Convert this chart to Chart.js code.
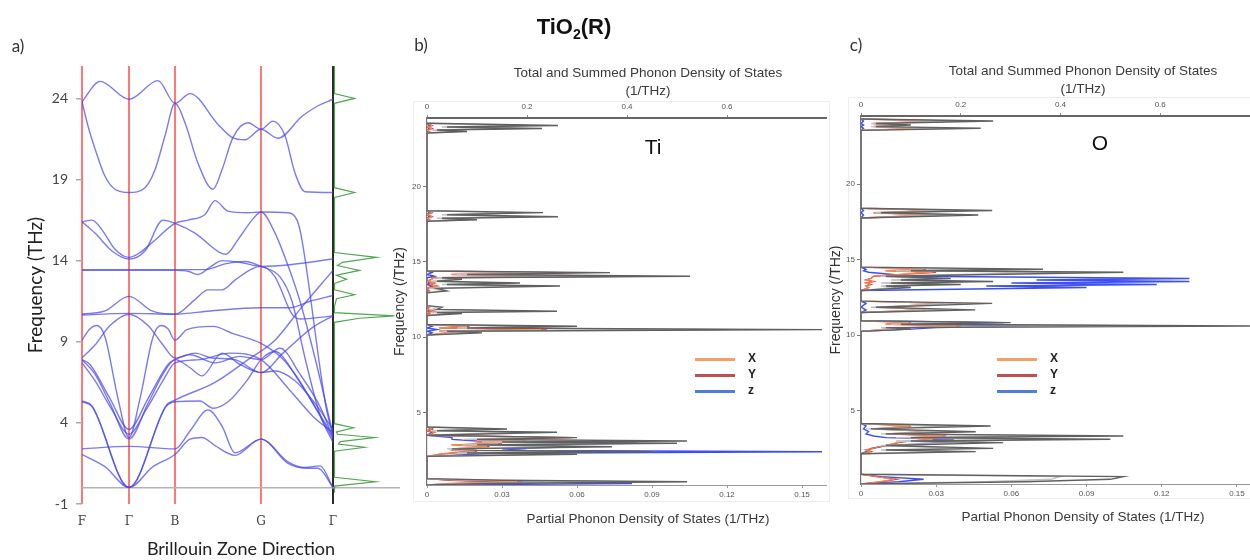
<!DOCTYPE html>
<html>
<head>
<meta charset="utf-8">
<script src="https://cdn.jsdelivr.net/npm/chart.js@4.4.1/dist/chart.umd.min.js"></script>
<style>
  html, body { margin: 0; padding: 0; background: #fff; }
  body { position: relative; width: 1250px; height: 560px; overflow: hidden; font-family: "Liberation Sans", Arial, sans-serif; }
  canvas { position: absolute; }
  .t { position: absolute; white-space: nowrap; transform: translate(-50%, -50%); color: #333; }
  .frame { position: absolute; border: 1px solid #ededed; }
  .leg { position: absolute; width: 40px; height: 3px; }
  .legt { position: absolute; font: bold 12px "Liberation Sans", Arial, sans-serif; color: #222; transform: translateY(-50%); }
</style>
</head>
<body>
<div class="frame" style="left:413px;top:101px;width:415px;height:399px"></div>
<div class="frame" style="left:848px;top:97px;width:420px;height:400px"></div>

<canvas id="bands" width="410" height="560" style="left:0;top:0"></canvas>
<canvas id="dosTi" width="460" height="500" style="left:380px;top:40px"></canvas>
<canvas id="dosO" width="435" height="500" style="left:815px;top:40px"></canvas>

<div class="t" style="left:18px;top:45px;font:17px Lato">a)</div>
<div class="t" style="left:421px;top:44px;font:17px Lato">b)</div>
<div class="t" style="left:856px;top:44px;font:17px Lato">c)</div>
<div class="t" style="left:574px;top:28px;font:bold 22px 'Liberation Sans';color:#111">TiO<sub style="font-size:14px">2</sub>(R)</div>

<div class="t" style="left:648px;top:72px;font:13.5px 'Liberation Sans';color:#3a3a3a">Total and Summed Phonon Density of States</div>
<div class="t" style="left:648px;top:90px;font:13.5px 'Liberation Sans';color:#3a3a3a">(1/THz)</div>
<div class="t" style="left:648px;top:518px;font:13.5px 'Liberation Sans';color:#3a3a3a">Partial Phonon Density of States (1/THz)</div>
<div class="t" style="left:653px;top:147px;font:21px 'Liberation Sans';color:#111">Ti</div>

<div class="t" style="left:1083px;top:70px;font:13.5px 'Liberation Sans';color:#3a3a3a">Total and Summed Phonon Density of States</div>
<div class="t" style="left:1083px;top:88px;font:13.5px 'Liberation Sans';color:#3a3a3a">(1/THz)</div>
<div class="t" style="left:1083px;top:516px;font:13.5px 'Liberation Sans';color:#3a3a3a">Partial Phonon Density of States (1/THz)</div>
<div class="t" style="left:1100px;top:143px;font:21px 'Liberation Sans';color:#111">O</div>

<div id="legTi"></div>
<div id="legO"></div>

<script>
// ---------- a) phonon dispersion: [k along F-Γ-B-G-Γ, frequency THz]
const pathK = [0, 0.47, 0.93, 1.79, 2.51];
const pathLabels = ['F', 'Γ', 'B', 'G', 'Γ'];
const bandTicks = [-1, 0, 4, 9, 14, 19, 24];

const bands = [
  [[0,23.8],[0.18,25.05],[0.47,23.95],[0.76,25.1],[0.93,23.7],[1.08,24.3],[1.36,22.4],[1.50,21.6],[1.63,21.45],[1.79,22.1],[1.96,21.55],[2.20,22.9],[2.36,23.55],[2.51,23.95]],
  [[0,23.8],[0.06,22.3],[0.13,20.9],[0.23,19.2],[0.33,18.4],[0.47,18.2],[0.63,18.5],[0.73,19.6],[0.83,21.7],[0.93,23.7],[1.03,22.5],[1.16,20.0],[1.31,18.4],[1.40,19.6],[1.51,21.6],[1.66,22.5],[1.79,22.1],[1.91,22.6],[2.03,21.7],[2.13,19.4],[2.23,18.25],[2.51,18.2]],
  [[0,16.4],[0.10,16.5],[0.20,15.9],[0.33,14.7],[0.47,14.2],[0.58,14.5],[0.70,15.1],[0.93,16.3],[1.06,16.5],[1.23,16.85],[1.33,17.7],[1.46,17.05],[1.66,16.95],[1.79,17.0],[2.06,16.95],[2.15,16.5],[2.19,15.6],[2.44,5.0],[2.51,3.2]],
  [[0,16.4],[0.13,15.7],[0.30,14.6],[0.47,14.1],[0.63,14.6],[0.81,16.5],[0.93,16.3],[1.13,15.7],[1.38,14.5],[1.44,14.4],[1.56,15.3],[1.70,16.5],[1.79,17.0],[1.93,15.7],[2.06,13.7],[2.18,11.5],[2.33,8.0],[2.51,3.3]],
  [[0,13.4],[0.47,13.4],[0.93,13.4],[1.06,13.35],[1.16,13.15],[1.28,13.6],[1.40,14.0],[1.58,13.9],[1.79,13.65],[2.08,13.75],[2.51,14.1]],
  [[0,13.45],[0.93,13.45],[1.23,13.45],[1.43,13.8],[1.63,13.95],[1.79,13.65],[1.98,13.0],[2.10,11.5],[2.23,8.0],[2.38,4.5],[2.51,2.8]],
  [[0,10.7],[0.23,10.9],[0.47,11.8],[0.70,10.9],[0.93,10.7],[1.13,11.6],[1.26,12.2],[1.40,12.2],[1.53,12.8],[1.70,13.5],[1.79,13.65],[1.93,13.0],[2.10,10.7],[2.18,10.4],[2.51,10.6]],
  [[0,10.65],[0.47,10.75],[0.93,10.7],[1.28,10.9],[1.79,11.1],[2.08,11.1],[2.28,11.5],[2.51,11.85]],
  [[0,9.1],[0.08,9.8],[0.15,10.0],[0.23,9.3],[0.36,5.5],[0.47,3.1],[0.58,5.5],[0.71,9.3],[0.79,10.0],[0.86,9.8],[0.93,9.1],[1.05,9.75],[1.31,9.95],[1.51,9.5],[1.79,8.9],[2.03,7.8],[2.28,5.5],[2.51,3.0]],
  [[0,8.0],[0.13,8.8],[0.28,10.0],[0.47,10.7],[0.66,10.0],[0.81,8.8],[0.93,8.0],[1.13,8.3],[1.30,8.0],[1.53,7.9],[1.79,7.1],[2.01,8.3],[2.31,9.9],[2.51,10.6]],
  [[0,7.9],[0.13,7.0],[0.28,5.2],[0.47,3.0],[0.66,5.2],[0.81,7.0],[0.93,7.9],[1.08,7.4],[1.20,6.9],[1.40,8.3],[1.58,7.6],[1.79,7.1],[1.93,7.2],[2.13,6.6],[2.33,5.2],[2.51,3.6]],
  [[0,7.7],[0.13,6.6],[0.30,4.8],[0.47,3.3],[0.64,4.8],[0.81,6.6],[0.93,7.7],[1.18,7.9],[1.48,8.3],[1.79,7.9],[2.08,6.0],[2.31,4.4],[2.51,3.4]],
  [[0,7.9],[0.08,7.6],[0.28,5.5],[0.47,3.6],[0.66,5.5],[0.86,7.6],[0.93,7.9],[1.08,8.2],[1.33,7.7],[1.58,8.1],[1.79,7.9],[1.98,8.6],[2.18,7.0],[2.38,5.0],[2.51,3.1]],
  [[0,5.3],[0.10,5.0],[0.47,0.02],[0.84,5.0],[0.93,5.3],[1.18,5.35],[1.31,4.9],[1.46,5.3],[1.66,6.7],[1.79,7.9],[1.93,8.4],[2.13,7.0],[2.35,4.8],[2.51,3.2]],
  [[0,2.05],[0.23,1.3],[0.47,0.02],[0.71,1.3],[0.93,2.05],[1.08,3.0],[1.20,3.1],[1.33,2.6],[1.53,2.0],[1.79,3.0],[2.06,1.5],[2.26,1.2],[2.36,1.2],[2.51,0.02]],
  [[0,2.4],[0.47,2.55],[0.93,2.4],[1.08,3.5],[1.26,4.8],[1.40,3.8],[1.53,2.15],[1.79,3.0],[2.06,1.6],[2.23,1.25],[2.38,1.35],[2.51,0.02]],
  [[0,5.35],[0.10,5.05],[0.47,0.02],[0.84,5.05],[0.93,5.4],[1.33,6.5],[1.66,7.9],[1.93,9.1],[2.18,11.0],[2.51,13.4]]
];

// total DOS drawn beside the dispersion (arbitrary units)
const dosFreqA = [-0.3, 0.1, 0.37, 0.65, 2.25, 2.5, 2.7, 2.85, 3.1, 3.3, 3.45, 3.7, 3.95, 10.2, 10.45, 10.6, 10.8, 11.2, 11.65, 11.9, 12.2, 12.6, 12.85, 13.1, 13.4, 13.7, 13.9, 14.2, 14.5, 17.9, 18.2, 18.5, 23.7, 24.0, 24.3, 26];
const dosA     = [0, 0, 0.41, 0, 0, 0.30, 0.04, 0.06, 0.40, 0.03, 0.02, 0.19, 0, 0, 0.25, 0.60, 0, 0, 0.02, 0.20, 0, 0, 0.12, 0.02, 0.25, 0.03, 0.08, 0.42, 0, 0, 0.20, 0, 0, 0.20, 0, 0];

// ---------- b), c) density of states
const freqTicks = [5, 10, 15, 20];
const totalTicks = [0, 0.2, 0.4, 0.6];
const partialTicks = [0, 0.03, 0.06, 0.09, 0.12, 0.15];
const legendNames = ['X', 'Y', 'z'];

const tiFreq = [0.2, 0.3, 0.42, 0.52, 0.62,
  2.1, 2.24, 2.32, 2.41, 2.5, 2.6, 2.74, 2.86, 2.97, 3.05, 3.12, 3.23, 3.34, 3.5, 3.7, 3.8, 3.92, 4.05,
  10.15, 10.29, 10.4, 10.51, 10.62, 10.73, 10.85,
  11.45, 11.58, 11.65, 11.73, 11.85, 12.0, 12.1,
  12.95, 13.07, 13.25, 13.4, 13.5, 13.6, 13.72, 13.85, 13.95, 14.05, 14.17, 14.29, 14.4,
  17.7, 17.8, 17.9, 18.0, 18.13, 18.27, 18.4,
  23.55, 23.65, 23.75, 23.85, 23.95, 24.05, 24.2];
const tiTotal = [0, 0.12, 0.52, 0.15, 0,
  0, 0.30, 0.08, 0.45, 0.1, 0.05, 0.37, 0.1, 0.50, 0.15, 0.52, 0.1, 0.30, 0, 0.26, 0.02, 0.16, 0,
  0, 0.11, 0.04, 0.79, 0.08, 0.30, 0,
  0, 0.07, 0.02, 0.26, 0.02, 0.03, 0,
  0, 0.04, 0.02, 0.266, 0.04, 0.186, 0.02, 0.07, 0.03, 0.526, 0.08, 0.366, 0,
  0, 0.10, 0.03, 0.262, 0.04, 0.232, 0,
  0, 0.08, 0.02, 0.23, 0.04, 0.262, 0];
const tiSummed = [0, 0.09, 0.40, 0.11, 0,
  0, 0.22, 0.06, 0.34, 0.07, 0.04, 0.28, 0.07, 0.38, 0.11, 0.40, 0.07, 0.22, 0, 0.19, 0.01, 0.12, 0,
  0, 0.08, 0.03, 0.60, 0.06, 0.22, 0,
  0, 0.05, 0.01, 0.19, 0.01, 0.02, 0,
  0, 0.03, 0.01, 0.20, 0.03, 0.14, 0.01, 0.05, 0.02, 0.40, 0.06, 0.28, 0,
  0, 0.07, 0.02, 0.20, 0.03, 0.17, 0,
  0, 0.06, 0.01, 0.17, 0.03, 0.20, 0];
const tiX = [0, 0.0095, 0.036, 0.0095, 0,
  0, 0.0048, 0.0095, 0.019, 0.0095, 0.0095, 0.024, 0.0095, 0.0285, 0.019, 0.038, 0.019, 0.055, 0, 0.003, 0, 0.002, 0,
  0, 0.0095, 0.0048, 0.0456, 0.0048, 0.016, 0,
  0, 0.001, 0, 0.003, 0, 0.001, 0,
  0, 0.001, 0, 0.004, 0.001, 0.003, 0, 0.002, 0.002, 0.074, 0.0095, 0.050, 0,
  0, 0.001, 0, 0.002, 0, 0.002, 0,
  0, 0.001, 0, 0.002, 0, 0.002, 0];
const tiY = [0, 0.010, 0.038, 0.010, 0,
  0, 0.005, 0.010, 0.020, 0.010, 0.010, 0.025, 0.010, 0.030, 0.020, 0.040, 0.020, 0.058, 0, 0.003, 0, 0.002, 0,
  0, 0.010, 0.005, 0.048, 0.005, 0.017, 0,
  0, 0.001, 0, 0.003, 0, 0.001, 0,
  0, 0.001, 0, 0.004, 0.001, 0.003, 0, 0.002, 0.002, 0.078, 0.010, 0.053, 0,
  0, 0.001, 0, 0.002, 0, 0.002, 0,
  0, 0.001, 0, 0.002, 0, 0.002, 0];
const tiZ = [0, 0.082, 0.030, 0.010, 0,
  0, 0.020, 0.050, 0.158, 0.040, 0.030, 0.060, 0.030, 0.084, 0.050, 0.020, 0.010, 0.010, 0, 0.002, 0, 0.002, 0,
  0, 0.002, 0, 0.004, 0, 0.002, 0,
  0, 0.001, 0, 0.001, 0, 0, 0,
  0, 0, 0, 0.002, 0, 0.001, 0, 0, 0, 0.003, 0, 0.002, 0,
  0, 0, 0, 0.001, 0, 0.001, 0,
  0, 0, 0, 0.001, 0, 0.001, 0];

const oFreq = [0.15, 0.3, 0.46, 0.64, 0.8,
  2.15, 2.29, 2.4, 2.51, 2.7, 2.89, 3.0, 3.11, 3.22, 3.33, 3.47, 3.61, 3.8, 3.99, 4.15,
  10.25, 10.4, 10.5, 10.6, 10.72, 10.83, 10.95,
  11.5, 11.67, 11.85, 12.1, 12.25,
  12.95, 13.15, 13.25, 13.35, 13.45, 13.55, 13.65, 13.75, 13.9, 14.16, 14.26, 14.36, 14.5,
  17.75, 17.95, 18.1, 18.25, 18.4,
  23.55, 23.69, 23.8, 23.9, 24.0, 24.17, 24.3];
const oTotal = [0, 0.33, 0.50, 0.526, 0,
  0, 0.23, 0.05, 0.265, 0.05, 0.285, 0.10, 0.50, 0.10, 0.526, 0.05, 0.23, 0.02, 0.26, 0,
  0, 0.10, 0.05, 0.80, 0.08, 0.30, 0,
  0, 0.229, 0.03, 0.263, 0,
  0, 0.10, 0.05, 0.20, 0.06, 0.265, 0.08, 0.18, 0.05, 0.526, 0.10, 0.365, 0,
  0, 0.235, 0.04, 0.263, 0,
  0, 0.24, 0.03, 0.10, 0.03, 0.265, 0];
const oSummed = [0, 0.25, 0.38, 0.40, 0,
  0, 0.17, 0.04, 0.20, 0.04, 0.21, 0.07, 0.38, 0.07, 0.40, 0.04, 0.17, 0.01, 0.19, 0,
  0, 0.07, 0.04, 0.60, 0.06, 0.22, 0,
  0, 0.17, 0.02, 0.20, 0,
  0, 0.07, 0.04, 0.15, 0.04, 0.20, 0.06, 0.13, 0.04, 0.40, 0.07, 0.27, 0,
  0, 0.18, 0.03, 0.20, 0,
  0, 0.18, 0.02, 0.07, 0.02, 0.20, 0];
const oX = [0, 0.0076, 0.0133, 0.0057, 0,
  0, 0.0038, 0.0019, 0.0048, 0.0095, 0.0143, 0.019, 0.0285, 0.019, 0.0323, 0.0095, 0.0285, 0.0048, 0.019, 0,
  0, 0.0095, 0.019, 0.038, 0.0095, 0.019, 0,
  0, 0.0247, 0.0095, 0.0314, 0,
  0, 0.003, 0.002, 0.004, 0.002, 0.005, 0.002, 0.004, 0.005, 0.0285, 0.0095, 0.0247, 0,
  0, 0.0266, 0.0048, 0.0314, 0,
  0, 0.0238, 0.0048, 0.0095, 0.0048, 0.0314, 0];
const oY = [0, 0.008, 0.014, 0.006, 0,
  0, 0.004, 0.002, 0.005, 0.010, 0.015, 0.020, 0.030, 0.020, 0.034, 0.010, 0.030, 0.005, 0.020, 0,
  0, 0.010, 0.020, 0.040, 0.010, 0.020, 0,
  0, 0.026, 0.010, 0.033, 0,
  0, 0.003, 0.002, 0.004, 0.002, 0.005, 0.002, 0.004, 0.005, 0.030, 0.010, 0.026, 0,
  0, 0.028, 0.005, 0.033, 0,
  0, 0.025, 0.005, 0.010, 0.005, 0.033, 0];
const oZ = [0, 0.015, 0.025, 0.008, 0,
  0, 0.002, 0.003, 0.004, 0.010, 0.037, 0.020, 0.037, 0.010, 0.005, 0.002, 0.003, 0.001, 0.002, 0,
  0, 0.020, 0.030, 0.066, 0.020, 0.057, 0,
  0, 0.002, 0, 0.002, 0,
  0, 0.090, 0.050, 0.118, 0.060, 0.131, 0.070, 0.131, 0.020, 0.003, 0.001, 0.002, 0,
  0, 0.001, 0, 0.001, 0,
  0, 0.001, 0, 0.001, 0, 0.001, 0];

const BAND_BLUE = 'rgba(70,70,238,0.72)';
const partialColors = ['#f0a050', 'rgba(228,40,40,0.9)', 'rgba(40,60,236,0.9)'];
const partialWidths = [0.8, 1.4, 1.4];
const legendColors = ['#f4a15d', '#c0504d', '#4f7fdc'];

// ---------- panel a
new Chart(document.getElementById('bands'), {
  type: 'scatter',
  data: {
    datasets: bands.map(b => ({
      data: b.map(p => ({ x: p[0], y: p[1] })),
      showLine: true,
      borderColor: BAND_BLUE,
      borderWidth: 1.4,
      pointRadius: 0,
      cubicInterpolationMode: 'monotone',
      xAxisID: 'x'
    })).concat([{
      data: dosA.map((v, i) => ({ x: v, y: dosFreqA[i] })),
      showLine: true,
      borderColor: 'rgba(50,150,50,0.85)',
      borderWidth: 1.2,
      pointRadius: 0,
      tension: 0,
      xAxisID: 'xd'
    }])
  },
  options: {
    responsive: false,
    animation: false,
    layout: { padding: { top: 66, right: 10, left: 0, bottom: 0 } },
    plugins: { legend: { display: false }, tooltip: { enabled: false } },
    scales: {
      x: {
        type: 'linear', min: 0, max: 3.18,
        afterFit: s => { s.height = 56; },
        afterBuildTicks: s => { s.ticks = pathK.map(v => ({ value: v })); },
        ticks: { callback: (v, i) => pathLabels[i], autoSkip: false, maxRotation: 0, padding: 11,
                 font: { family: 'DejaVu Serif', size: 12 }, color: '#444' },
        grid: { color: c => c.index === 4 ? '#2a2a2a' : 'rgba(255,95,95,0.85)', lineWidth: 2, drawTicks: false },
        border: { display: false },
        title: { display: true, text: 'Brillouin Zone Direction', font: { family: 'Lato', size: 18 }, color: '#222', padding: 0 }
      },
      xd: { type: 'linear', display: false, min: -2.525, max: 0.655 },
      y: {
        type: 'linear', min: -1, max: 26,
        afterFit: s => { s.width = 82; },
        afterBuildTicks: s => { s.ticks = bandTicks.map(v => ({ value: v })); },
        ticks: { callback: v => (v === 0 ? '' : v), padding: 8, font: { family: 'Lato', size: 14 }, color: '#444' },
        grid: {
          color: c => (c.tick && c.tick.value === 0) ? '#b4b4b4' : 'rgba(0,0,0,0)',
          tickColor: c => (c.tick && c.tick.value === 0) ? 'rgba(0,0,0,0)' : '#aaa',
          tickLength: 6, lineWidth: 1.5
        },
        border: { display: false },
        title: { display: true, text: 'Frequency (THz)', font: { family: 'Lato', size: 19 }, color: '#222', padding: { top: 24 } }
      }
    }
  }
});

// ---------- panels b and c
function dosChart(id, freq, total, summed, partials, o) {
  const line = (vals, color, axis, w) => ({
    data: vals.map((v, i) => ({ x: v, y: freq[i] })),
    showLine: true, borderColor: color, borderWidth: w, pointRadius: 0, tension: 0, xAxisID: axis
  });
  const tickFont = { family: 'Liberation Sans', size: 8 };
  new Chart(document.getElementById(id), {
    type: 'scatter',
    data: {
      datasets: [line(total, '#606060', 'x2', 1.4), line(summed, '#c2c2c2', 'x2', 1.4)]
        .concat(partials.map((p, i) => line(p, partialColors[i], 'x', partialWidths[i])))
    },
    options: {
      responsive: false,
      animation: false,
      layout: { padding: { right: o.padRight, left: 0, top: 0, bottom: 0 } },
      plugins: { legend: { display: false }, tooltip: { enabled: false } },
      scales: {
        x: {
          type: 'linear', position: 'bottom', min: 0, max: o.partialMax,
          afterFit: s => { s.height = o.bottomH; },
          afterBuildTicks: s => { s.ticks = partialTicks.map(v => ({ value: v })); },
          ticks: { callback: v => String(v), font: tickFont, color: '#555', padding: 2, maxRotation: 0, autoSkip: false },
          grid: { drawOnChartArea: false, tickLength: 3, color: '#999' },
          border: { color: '#9a9a9a' }
        },
        x2: {
          type: 'linear', position: 'top', min: 0, max: o.totalMax,
          afterFit: s => { s.height = o.topH; },
          afterBuildTicks: s => { s.ticks = totalTicks.map(v => ({ value: v })); },
          ticks: { callback: v => String(v), font: tickFont, color: '#555', padding: 3, maxRotation: 0, autoSkip: false },
          grid: { drawOnChartArea: false, tickLength: 3, color: '#888' },
          border: { color: '#666', width: 2 }
        },
        y: {
          type: 'linear', min: o.yMin, max: o.yMax,
          afterFit: s => { s.width = o.leftW; },
          afterBuildTicks: s => { s.ticks = freqTicks.map(v => ({ value: v })); },
          ticks: { font: tickFont, color: '#555', padding: 2 },
          grid: { drawOnChartArea: false, tickLength: 4, color: '#777' },
          border: { color: '#777', width: 1.2 },
          title: { display: true, text: 'Frequency (/THz)', font: { family: 'Liberation Sans', size: 14 }, color: '#333', padding: { top: o.titlePad } }
        }
      }
    }
  });
}

dosChart('dosTi', tiFreq, tiTotal, tiSummed, [tiX, tiY, tiZ],
  { padRight: 14, partialMax: 0.1596, totalMax: 0.798, bottomH: 55, topH: 78, leftW: 47, yMin: 0.2, yMax: 24.55, titlePad: 12 });
dosChart('dosO', oFreq, oTotal, oSummed, [oX, oY, oZ],
  { padRight: 0, partialMax: 0.1552, totalMax: 0.780, bottomH: 56, topH: 76, leftW: 46, yMin: 0.15, yMax: 24.5, titlePad: 13 });

// legends for the partial components
function legend(id, left, top) {
  const box = document.getElementById(id);
  legendNames.forEach((name, i) => {
    const y = top + i * 16;
    box.insertAdjacentHTML('beforeend',
      '<div class="leg" style="left:' + left + 'px;top:' + (y - 1) + 'px;background:' + legendColors[i] + '"></div>' +
      '<div class="legt" style="left:' + (left + 53) + 'px;top:' + (y - 1) + 'px">' + name + '</div>');
  });
}
legend('legTi', 695, 359);
legend('legO', 997, 359);
</script>
</body>
</html>
